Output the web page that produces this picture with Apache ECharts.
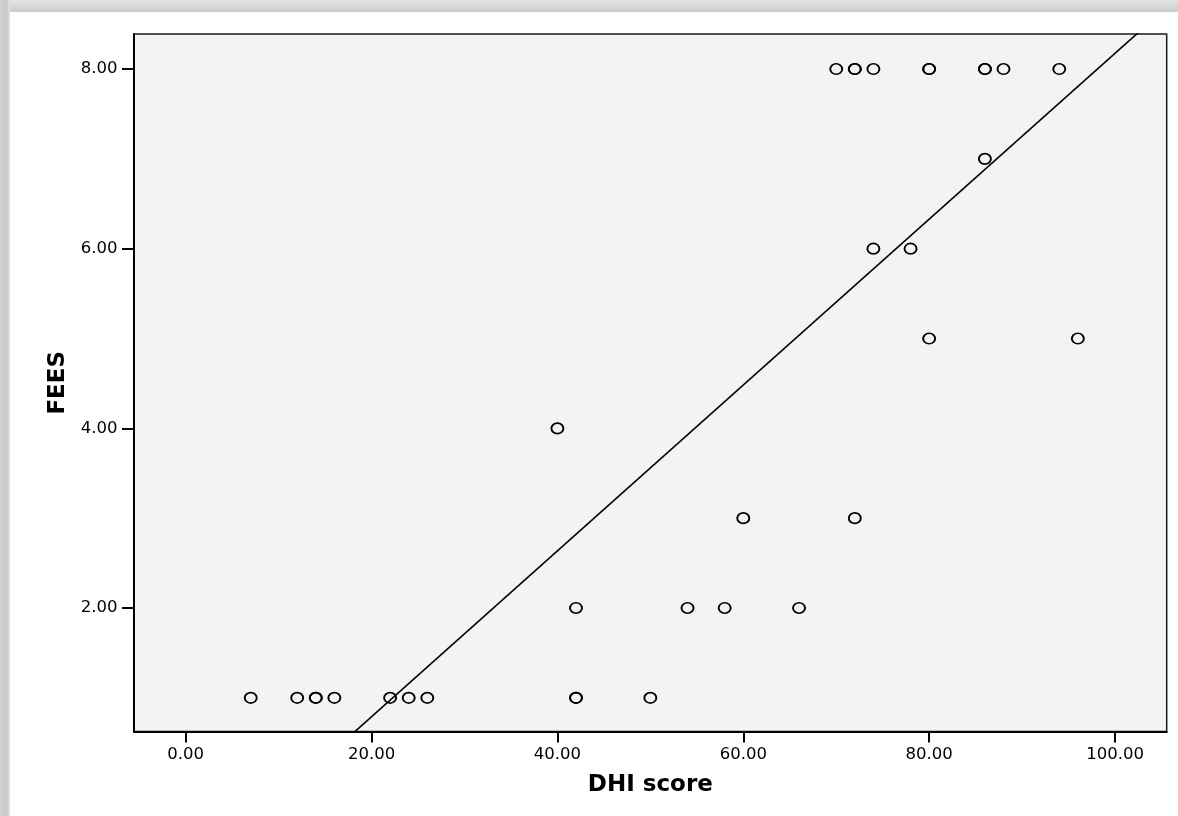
<!DOCTYPE html>
<html>
<head>
<meta charset="utf-8">
<script src="https://cdn.jsdelivr.net/npm/echarts@6/dist/echarts.min.js"></script>
<style>
html,body{margin:0;padding:0;background:#fff;}
#chart{width:1178px;height:816px;}
</style>
</head>
<body>
<div id="chart"></div>
<script>
// DHI score (x) and FEES (y) for each case
const dhiScore = [7, 12, 14, 14, 16, 22, 24, 26, 42, 42, 50,
                  42, 54, 58, 66,
                  60, 72,
                  40,
                  80, 96,
                  74, 78,
                  86,
                  70, 72, 72, 74, 80, 80, 86, 86, 88, 94];
const fees     = [1, 1, 1, 1, 1, 1, 1, 1, 1, 1, 1,
                  2, 2, 2, 2,
                  3, 3,
                  4,
                  5, 5,
                  6, 6,
                  7,
                  8, 8, 8, 8, 8, 8, 8, 8, 8, 8];
// Linear fit line (FEES = intercept + slope * DHI)
const fitIntercept = -1.057;
const fitSlope = 0.09232;
// Axis ranges and tick labels
const xRange = [-5.56, 105.56];
const yRange = [0.625, 8.39];
const xTicks = [0, 20, 40, 60, 80, 100];
const yTicks = [2, 4, 6, 8];
const xTitle = 'DHI score';
const yTitle = 'FEES';

const points = dhiScore.map((x, i) => [x, fees[i]]);
const fitLine = [
  [xRange[0], fitIntercept + fitSlope * xRange[0]],
  [xRange[1], fitIntercept + fitSlope * xRange[1]]
];

const FONT = 'DejaVu Sans';
const chart = echarts.init(document.getElementById('chart'), null, {renderer: 'canvas'});
chart.setOption({
  animation: false,
  backgroundColor: '#ffffff',
  graphic: [
    {type: 'rect', left: 0, top: 0, z: -10, shape: {width: 1178, height: 12},
     style: {fill: new echarts.graphic.LinearGradient(0, 0, 0, 1, [
       {offset: 0, color: '#e4e4e4'}, {offset: 0.6, color: '#d6d6d6'}, {offset: 1, color: '#cbcbcb'}])}},
    {type: 'rect', left: 0, top: 0, z: -10, shape: {width: 10, height: 816},
     style: {fill: new echarts.graphic.LinearGradient(0, 0, 1, 0, [
       {offset: 0, color: '#d2d2d2'}, {offset: 0.7, color: '#cacaca'}, {offset: 1, color: '#e6e6e6'}])}}
  ],
  grid: {
    left: 134, top: 34, right: 11.3, bottom: 84.5,
    show: true, backgroundColor: '#f3f3f3', borderColor: '#1a1a1a', borderWidth: 1.5
  },
  xAxis: {
    type: 'value', min: xRange[0], max: xRange[1],
    name: xTitle, nameLocation: 'middle', nameGap: 42,
    nameTextStyle: {fontFamily: FONT, fontWeight: 'bold', fontSize: 23, color: '#000'},
    axisLine: {show: true, onZero: false, lineStyle: {color: '#000', width: 2}},
    axisTick: {show: true, inside: false, length: 11, customValues: xTicks, lineStyle: {color: '#000', width: 2}},
    axisLabel: {customValues: xTicks, margin: 15, fontFamily: FONT, fontSize: 16.5, color: '#000',
      formatter: v => v.toFixed(2)},
    splitLine: {show: false}
  },
  yAxis: {
    type: 'value', min: yRange[0], max: yRange[1],
    name: yTitle, nameLocation: 'middle', nameGap: 63, nameRotate: 90,
    nameTextStyle: {fontFamily: FONT, fontWeight: 'bold', fontSize: 23, color: '#000'},
    axisLine: {show: true, onZero: false, lineStyle: {color: '#000', width: 2}},
    axisTick: {show: true, inside: false, length: 12, customValues: yTicks, lineStyle: {color: '#000', width: 2}},
    axisLabel: {customValues: yTicks, margin: 16.5, fontFamily: FONT, fontSize: 16.5, color: '#000',
      formatter: v => v.toFixed(2)},
    splitLine: {show: false}
  },
  series: [
    {
      type: 'line', data: fitLine, showSymbol: false, symbol: 'none', clip: true,
      lineStyle: {color: '#000', width: 1.6}, silent: true, z: 2
    },
    {
      type: 'scatter', data: points, symbol: 'circle', symbolSize: [12, 10.5],
      itemStyle: {color: 'rgba(0,0,0,0)', borderColor: '#000', borderWidth: 1.8, opacity: 1},
      clip: false, z: 3
    }
  ]
});
</script>
</body>
</html>
